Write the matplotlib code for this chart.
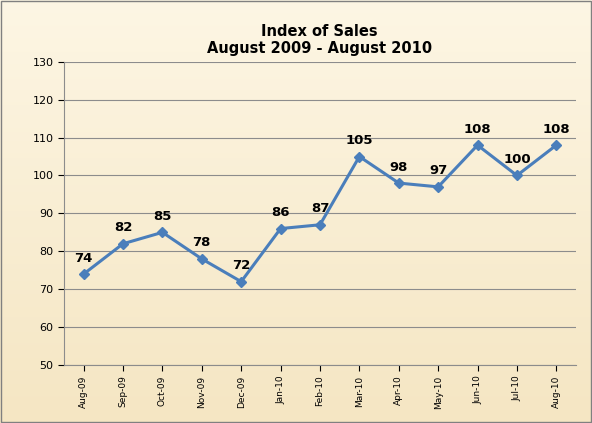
import numpy as np
import matplotlib.pyplot as plt
from matplotlib.colors import LinearSegmentedColormap

months = ['Aug-09', 'Sep-09', 'Oct-09', 'Nov-09', 'Dec-09', 'Jan-10', 'Feb-10',
          'Mar-10', 'Apr-10', 'May-10', 'Jun-10', 'Jul-10', 'Aug-10']
index_values = [74, 82, 85, 78, 72, 86, 87, 105, 98, 97, 108, 100, 108]

fig = plt.figure(figsize=(5.92, 4.23), dpi=100)

# beige gradient background
bg = fig.add_axes([0, 0, 1, 1], zorder=-1)
grad = np.linspace(0, 1, 256).reshape(-1, 1)
cmap = LinearSegmentedColormap.from_list('beige', ['#f5e6c3', '#fdf6e4'])
bg.imshow(grad, aspect='auto', cmap=cmap, extent=[0, 1, 0, 1], origin='lower')
bg.set_axis_off()
bg.add_patch(plt.Rectangle((0.001, 0.002), 0.997, 0.995, fill=False, edgecolor='#808080', lw=1))

ax = fig.add_axes([0.108, 0.137, 0.865, 0.717])
ax.patch.set_alpha(0)
x = np.arange(len(months))
ax.plot(x, index_values, color='#4a7ebb', lw=2.2, marker='D', markersize=5)
for xi, v in zip(x, index_values):
    ax.text(xi, v + 2.5, str(v), ha='center', va='bottom', fontsize=9.5, fontweight='bold')

ax.set_xlim(-0.5, len(months) - 0.5)
ax.set_ylim(50, 130)
ax.set_yticks(range(50, 131, 10))
ax.set_xticks(x)
ax.set_xticklabels(months, rotation=90, fontsize=6.5)
ax.tick_params(axis='y', labelsize=8, length=4)
ax.tick_params(axis='x', length=4)
ax.grid(axis='y', color='#8c8c8c', lw=0.8)
ax.set_axisbelow(True)
for s in ['top', 'right']:
    ax.spines[s].set_visible(False)
for s in ['left', 'bottom']:
    ax.spines[s].set_color('#8c8c8c')

fig.text(0.54, 0.905, 'Index of Sales\nAugust 2009 - August 2010', ha='center', va='center',
         fontsize=10.5, fontweight='bold', linespacing=1.15)

fig.savefig('out.png', dpi=100)
